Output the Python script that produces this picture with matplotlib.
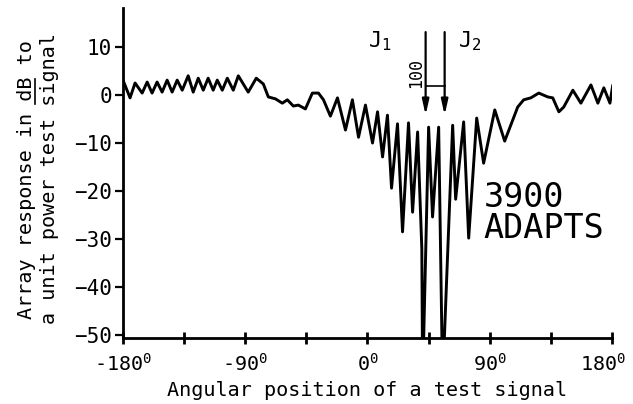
import matplotlib

matplotlib.use("Agg")

import matplotlib.pyplot as plt
import matplotlib.transforms as mtransforms
from matplotlib.lines import Line2D

# Response curve (angle in degrees, response in dB)
angles = [
    -180.0, -174.8, -171.1, -165.9, -162.2, -158.6, -154.9, -151.2, -147.5,
    -143.8, -140.1, -136.4, -132.0, -128.3, -124.6, -120.9, -117.3, -113.6,
    -110.6, -106.9, -103.2, -98.8, -95.1, -87.8, -81.9, -76.7, -73.0, -67.8,
    -62.7, -59.0, -54.6, -50.9, -45.7, -40.6, -36.1, -32.4, -27.3, -22.1,
    -16.2, -11.1, -6.6, -1.5, 3.7, 7.4, 11.1, 14.7, 17.7, 22.1, 25.8, 30.2,
    33.2, 36.9, 40.0, 40.6, 45.0, 47.9, 52.4, 55.3, 62.7, 64.9, 70.8, 74.5,
    80.4, 85.5, 93.7, 101.0, 110.6, 115.0, 120.2, 126.1, 132.7, 136.4, 140.9,
    144.5, 151.2, 157.1, 164.5, 169.6, 174.0, 178.5, 180.5,
]
response_db = [
    3.1, -0.6, 2.5, 0.4, 2.7, 0.4, 2.7, 0.6, 3.1,
    0.6, 3.1, 1.0, 4.0, 0.6, 3.5, 1.0, 3.5, 1.0,
    3.1, 1.0, 3.5, 1.0, 4.0, 0.6, 3.5, 2.3, -0.4, -0.8,
    -1.7, -1.0, -2.3, -2.1, -2.9, 0.4, 0.4, -1.0, -4.4, -0.6,
    -7.3, -1.0, -8.8, -2.1, -10.0, -3.5, -12.9, -4.2, -19.4, -6.0, -28.5, -5.8,
    -24.4, -7.7, -32.0, -60.0, -6.7, -25.4, -6.7, -60.0, -6.3, -21.7, -5.6, -29.8,
    -4.8, -14.2, -3.1, -9.6, -2.5, -1.0, -0.6, 0.4, -0.4, -0.6, -3.5,
    -2.5, 1.0, -1.7, 2.1, -1.7, 1.5, -1.7, 1.9,
]

jammer_angles = [42.8, 56.8]
jammer_labels = ["J$_1$", "J$_2$"]
jammer_label_x = [0.7, 66.4]

x_major = [-180, -90, 0, 90, 180]
x_major_labels = ["-180$^0$", "-90$^0$", "0$^0$", "90$^0$", "180$^0$"]
x_minor = [-135, -45, 45, 135]
y_ticks = [10, 0, -10, -20, -30, -40, -50]

MONO = "DejaVu Sans Mono"
plt.rcParams["font.family"] = MONO
plt.rcParams["mathtext.fontset"] = "custom"
plt.rcParams["mathtext.rm"] = MONO
plt.rcParams["mathtext.it"] = MONO

fig = plt.figure(figsize=(6.33, 4.04), dpi=100)
ax = fig.add_axes([0.1943, 0.1634, 0.7725, 0.8166])

ax.plot(angles, response_db, color="black", linewidth=2.1, solid_joinstyle="round")

ax.set_xlim(-180, 180)
ax.set_ylim(-50.6, 18.1)
for side in ("top", "right"):
    ax.spines[side].set_visible(False)
for side in ("left", "bottom"):
    ax.spines[side].set_linewidth(2.0)

ax.set_xticks(x_major)
ax.set_xticklabels(x_major_labels)
ax.set_xticks(x_minor, minor=True)
ax.set_yticks(y_ticks)
ax.tick_params(axis="x", which="both", direction="inout", length=9, width=2.0,
               labelsize=14.5, pad=6)
ax.tick_params(axis="y", direction="out", length=6, width=1.6, labelsize=15, pad=2)

# the last label sits a little left of its tick in the original
last = ax.get_xticklabels()[-1]
last.set_transform(last.get_transform()
                   + mtransforms.ScaledTranslation(-9 / 100, 0, fig.dpi_scale_trans))

ax.set_xlabel("Angular position of a test signal", fontsize=14.5, labelpad=5)

# two-line y label with "dB" underlined
fig.text(27 / 633, 1 - 180 / 404, "Array response in dB to", rotation=90,
         fontsize=14.5, ha="center", va="center")
fig.text(50 / 633, 1 - 178 / 404, "a unit power test signal", rotation=90,
         fontsize=14.5, ha="center", va="center")
fig.add_artist(Line2D([35 / 633, 35 / 633], [1 - 104 / 404, 1 - 79 / 404],
                      color="black", linewidth=1.2))

# jammer arrows
for jx, jlab, lx in zip(jammer_angles, jammer_labels, jammer_label_x):
    ax.annotate("", xy=(jx, -4.2), xytext=(jx, 13.1),
                arrowprops=dict(arrowstyle="-|>,head_length=0.9,head_width=0.2",
                                color="black", linewidth=1.6, shrinkA=0, shrinkB=0))
    ax.text(lx, 13.6, jlab, fontsize=16, ha="left", va="top")

ax.plot(jammer_angles, [1.9, 1.9], color="black", linewidth=1.2)
ax.text(35.4, 4.6, "100", rotation=90, fontsize=12, ha="center", va="center")

ax.text(85.5, -18.0, "3900\nADAPTS", fontsize=24, ha="left", va="top",
        linespacing=0.92)

fig.savefig("out.png", dpi=100)
